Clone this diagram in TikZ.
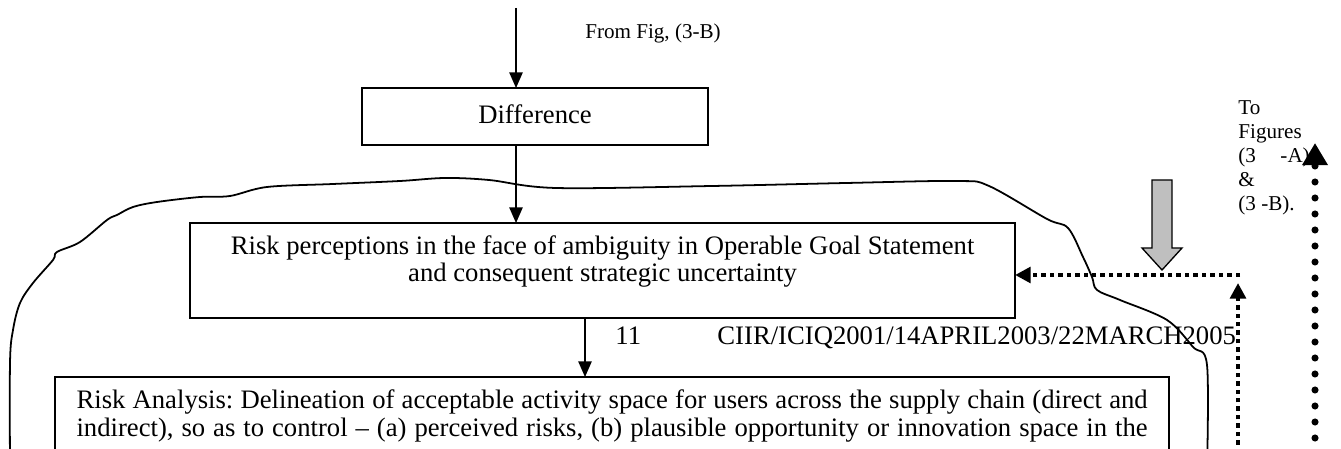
\documentclass[tikz,border=0pt]{standalone}
\usepackage{fontspec}
\setmainfont{Liberation Serif}
\usetikzlibrary{positioning,arrows.meta}

\begin{document}
\begin{tikzpicture}[x=0.45pt,y=-0.45pt,
    box/.style={draw,line width=0.8pt,inner sep=0pt,outer sep=0pt,font=\fontsize{12}{12.2}\selectfont},
    plain/.style={inner sep=0pt,font=\fontsize{12}{12.2}\selectfont},
    small/.style={inner sep=0pt,font=\fontsize{9.5}{10.8}\selectfont},
    arr/.style={-{Triangle[length=7pt,width=6pt]},line width=0.6pt},
    squares/.style={line width=2pt,dash pattern=on 2pt off 1.8pt,-{Triangle[length=7pt,width=7pt]}},
    bullets/.style={line width=3.2pt,line cap=round,dash pattern=on 0pt off 7.2pt,-{Triangle[length=10pt,width=11pt]}}]

  \clip (0,0) rectangle (1341,449);

  \node[box,anchor=north,minimum width=155.7pt,text height=16.2pt,text depth=9.45pt] (Diff) at (535,88) {Difference};
  \node[box,align=center,minimum width=371.25pt,text height=26.55pt,text depth=16.2pt] (RiskPerc) [below=35.1pt of Diff,xshift=30.4pt]
    {Risk perceptions in the face of ambiguity in Operable Goal Statement\\and consequent strategic uncertainty};
  \node[box,align=left,text width=482pt,inner xsep=9.65pt,text height=14.4pt,text depth=32pt] (RiskAna) [below=26.55pt of RiskPerc,xshift=4.3pt]
    {\noindent\frenchspacing\spaceskip=0.2em plus 1em minus 0.02em\relax
     \makebox[482pt][s]{Risk Analysis: Delineation of acceptable activity space for users across the supply chain (direct and}\\
     \makebox[482pt][s]{indirect), so as to control -- (a) perceived risks, (b) plausible opportunity or innovation space in the}};

  \node[small] (FromFig) at (653,33) {From Fig, (3-B)};
  \node[plain,anchor=base west] (PageNo) at (615,345) {11};
  \node[plain,anchor=base west] (DocRef) at (717,345) {CIIR/ICIQ2001/14APRIL2003/22MARCH2005};
  \node[small,anchor=north west,align=left] (ToFigs) at (1238,100) {To\\Figures\\(3\hspace{11pt}-A)\\\&\\(3 -B).};

  \coordinate (FromB) at (516,8);
  \coordinate (LoopFoot) at (1238,470);
  \coordinate (LoopTop) at (1238,283);
  \coordinate (LoopTurn) at (1240,275);
  \coordinate (OutFoot) at (1315,470);
  \coordinate (OutHead) at (1315,143);

  \draw[line width=0.8pt] plot[smooth,tension=0.55] coordinates {(10,470) (10,363) (13,330) (20,303) (33,283) (53,260) (57,252)
    (80,242) (107,220) (117,215) (133,207) (157,202) (200,197) (230,196) (267,187) (333,184) (400,181) (445,178) (489,180)
    (556,188) (712,186) (846,183) (958,181) (989,186) (1047,219) (1068,228) (1083,257) (1092,277) (1097,290) (1120,300)
    (1167,320) (1193,347) (1207,365) (1207,470)};

  \draw[arr] (FromB) -- (FromB |- Diff.north);
  \draw[arr] (FromB |- Diff.south) -- (FromB |- RiskPerc.north);
  \draw[arr] ([xshift=-7.9pt]RiskPerc.south) -- ([xshift=-7.9pt]RiskPerc.south |- RiskAna.north);

  \draw[line width=0.6pt,fill=black!25] (1152,180) -- (1172,180) -- (1172,248) -- (1182,248) -- (1162,270)
    -- (1142,248) -- (1152,248) -- cycle;

  \draw[squares] (LoopFoot) -- (LoopTop);
  \draw[squares] (LoopTurn) -- (LoopTurn -| RiskPerc.east);
  \draw[bullets] (OutFoot) -- (OutHead);
\end{tikzpicture}
\end{document}
